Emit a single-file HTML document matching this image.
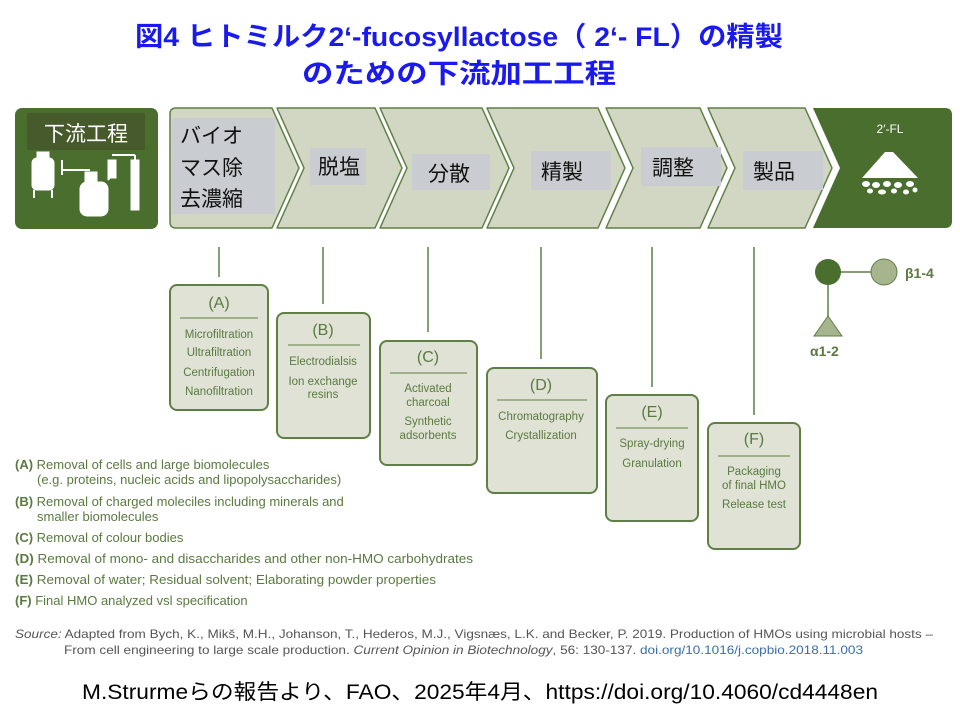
<!DOCTYPE html>
<html><head><meta charset="utf-8"><style>
html,body{margin:0;padding:0;background:#fff;width:960px;height:720px;overflow:hidden}
svg{display:block}
text{font-family:"Liberation Sans","Noto Sans CJK JP",sans-serif}
</style></head><body>
<svg width="960" height="720" viewBox="0 0 960 720" xmlns="http://www.w3.org/2000/svg">
<text x="135" y="46" font-size="27" font-weight="bold" fill="#1a1aee" textLength="648" lengthAdjust="spacingAndGlyphs">図4  ヒトミルク2‘-fucosyllactose（ 2‘- FL）の精製</text>
<text x="302" y="83" font-size="27" font-weight="bold" fill="#1a1aee" textLength="314" lengthAdjust="spacingAndGlyphs">のための下流加工工程</text>

<rect x="15" y="108" width="143" height="121" rx="7" fill="#4a6e2e"/>
<rect x="27" y="113" width="118" height="37" fill="#475a2c"/>
<text x="86" y="141" font-size="21" fill="#fff" text-anchor="middle">下流工程</text>
<g fill="#fff" stroke="#fff">
<rect x="32" y="158" width="22" height="32" rx="5"/>
<line x1="34" y1="190" x2="34" y2="198" stroke-width="2"/><line x1="52" y1="190" x2="52" y2="198" stroke-width="2"/>
<rect x="37" y="152" width="12" height="5"/>
<line x1="62" y1="160" x2="62" y2="175" stroke-width="2"/>
<line x1="62" y1="170" x2="90" y2="170" stroke-width="2"/>
<rect x="85" y="172" width="12" height="10"/>
<rect x="80" y="182" width="28" height="34" rx="7"/>
<line x1="108" y1="180" x2="115" y2="170" stroke-width="2"/>
<rect x="108" y="160" width="8" height="18"/>
<line x1="112" y1="155" x2="135" y2="155" stroke-width="2" fill="none"/>
<rect x="131" y="160" width="8" height="50"/>
<line x1="135" y1="155" x2="135" y2="160" stroke-width="2"/>
</g>

<g fill="#d2d7c3" stroke="#5f7f45" stroke-width="1.5" stroke-linejoin="round">
<path d="M176 108 L272 108 L299 168 L272 228 L176 228 Q170 228 170 222 L170 114 Q170 108 176 108 Z"/>
<path d="M277 108 L375 108 L402 168 L375 228 L277 228 L304 168 Z"/>
<path d="M380 108 L482 108 L509 168 L482 228 L380 228 L407 168 Z"/>
<path d="M487 108 L598 108 L625 168 L598 228 L487 228 L514 168 Z"/>
<path d="M606 108 L700 108 L727 168 L700 228 L606 228 L633 168 Z"/>
<path d="M708 108 L805 108 L832 168 L805 228 L708 228 L735 168 Z"/>
</g>
<path d="M813 108 L945 108 Q952 108 952 115 L952 221 Q952 228 945 228 L813 228 L840 168 Z" fill="#4a6e2e"/>
<text x="890" y="133" font-size="12" fill="#fff" text-anchor="middle">2′-FL</text>
<path d="M862 178 L885 152 L893 152 L918 178 Z" fill="#fff"/>
<g fill="#fff">
<ellipse cx="866" cy="184" rx="4" ry="3"/><ellipse cx="876" cy="185" rx="4" ry="3"/><ellipse cx="887" cy="184" rx="4" ry="3"/><ellipse cx="898" cy="185" rx="4" ry="3"/><ellipse cx="910" cy="184" rx="4" ry="3"/>
<ellipse cx="870" cy="191" rx="3" ry="2.5"/><ellipse cx="882" cy="192" rx="4" ry="2.5"/><ellipse cx="894" cy="191" rx="3" ry="2.5"/><ellipse cx="906" cy="192" rx="3" ry="2.5"/><ellipse cx="915" cy="190" rx="2.5" ry="2.5"/>
</g>

<g fill="#c9ccd0">
<rect x="172" y="118" width="103" height="96"/>
<rect x="310" y="148" width="56" height="37"/>
<rect x="412" y="154" width="78" height="36"/>
<rect x="531" y="151" width="80" height="39"/>
<rect x="641" y="147" width="80" height="39"/>
<rect x="743" y="151" width="80" height="39"/>
</g>
<g font-size="21" fill="#111">
<text x="180" y="143">バイオ</text>
<text x="180" y="175">マス除</text>
<text x="180" y="206">去濃縮</text>
<text x="318" y="174">脱塩</text>
<text x="428" y="181">分散</text>
<text x="541" y="179">精製</text>
<text x="652" y="175">調整</text>
<text x="753" y="179">製品</text>
</g>

<g stroke="#5f7f45" stroke-width="1.5">
<line x1="219" y1="247" x2="219" y2="277"/>
<line x1="323" y1="247" x2="323" y2="304"/>
<line x1="428" y1="247" x2="428" y2="332"/>
<line x1="541" y1="247" x2="541" y2="359"/>
<line x1="652" y1="247" x2="652" y2="387"/>
<line x1="754" y1="247" x2="754" y2="415"/>
</g>

<g fill="#dfe2d5" stroke="#5f7f45" stroke-width="2">
<rect x="170" y="285" width="98" height="125" rx="7"/>
<rect x="277" y="313" width="93" height="125" rx="7"/>
<rect x="380" y="341" width="97" height="124" rx="7"/>
<rect x="487" y="368" width="110" height="125" rx="7"/>
<rect x="606" y="395" width="92" height="126" rx="7"/>
<rect x="708" y="423" width="92" height="126" rx="7"/>
</g>
<g stroke="#5f7f45" stroke-width="1">
<line x1="180" y1="318" x2="258" y2="318"/>
<line x1="288" y1="345" x2="360" y2="345"/>
<line x1="390" y1="373" x2="467" y2="373"/>
<line x1="497" y1="400" x2="587" y2="400"/>
<line x1="616" y1="428" x2="688" y2="428"/>
<line x1="718" y1="456" x2="790" y2="456"/>
</g>
<g fill="#5a7a40" text-anchor="middle" font-size="11.5">
<text x="219" y="308" font-size="16">(A)</text>
<text x="219" y="338">Microfiltration</text>
<text x="219" y="356">Ultrafiltration</text>
<text x="219" y="376">Centrifugation</text>
<text x="219" y="395">Nanofiltration</text>
<text x="323" y="335" font-size="16">(B)</text>
<text x="323" y="365">Electrodialsis</text>
<text x="323" y="385">Ion exchange</text>
<text x="323" y="398">resins</text>
<text x="428" y="362" font-size="16">(C)</text>
<text x="428" y="392">Activated</text>
<text x="428" y="406">charcoal</text>
<text x="428" y="425">Synthetic</text>
<text x="428" y="439">adsorbents</text>
<text x="541" y="390" font-size="16">(D)</text>
<text x="541" y="420">Chromatography</text>
<text x="541" y="439">Crystallization</text>
<text x="652" y="417" font-size="16">(E)</text>
<text x="652" y="447">Spray-drying</text>
<text x="652" y="467">Granulation</text>
<text x="754" y="444" font-size="16">(F)</text>
<text x="754" y="475">Packaging</text>
<text x="754" y="489">of final HMO</text>
<text x="754" y="508">Release test</text>
</g>

<line x1="828" y1="272" x2="884" y2="272" stroke="#5f7f45" stroke-width="1.5"/>
<line x1="828" y1="272" x2="828" y2="320" stroke="#5f7f45" stroke-width="1.5"/>
<circle cx="828" cy="272" r="13" fill="#4a6e2e"/>
<circle cx="884" cy="272" r="13" fill="#a6b58e" stroke="#5f7f45" stroke-width="1"/>
<path d="M828 316 L842 336 L814 336 Z" fill="#a6b58e" stroke="#5f7f45" stroke-width="1"/>
<text x="905" y="278" font-size="14" font-weight="bold" fill="#5a7a40">β1-4</text>
<text x="810" y="356" font-size="14" font-weight="bold" fill="#5a7a40">α1-2</text>

<g font-size="13" fill="#5a7a40">
<text x="15" y="469"><tspan font-weight="bold">(A)</tspan> Removal of cells and large biomolecules</text>
<text x="37" y="484">(e.g. proteins, nucleic acids and lipopolysaccharides)</text>
<text x="15" y="506"><tspan font-weight="bold">(B)</tspan> Removal of charged moleciles including minerals and</text>
<text x="37" y="521">smaller biomolecules</text>
<text x="15" y="542"><tspan font-weight="bold">(C)</tspan> Removal of colour bodies</text>
<text x="15" y="563" textLength="458" lengthAdjust="spacingAndGlyphs"><tspan font-weight="bold">(D)</tspan> Removal of mono- and disaccharides and other non-HMO carbohydrates</text>
<text x="15" y="584" textLength="421" lengthAdjust="spacingAndGlyphs"><tspan font-weight="bold">(E)</tspan> Removal of water; Residual solvent; Elaborating powder properties</text>
<text x="15" y="605"><tspan font-weight="bold">(F)</tspan> Final HMO analyzed vsl specification</text>
</g>

<text x="15" y="638" font-size="12" fill="#555" textLength="918" lengthAdjust="spacingAndGlyphs"><tspan font-style="italic">Source:</tspan> Adapted from Bych, K., Mikš, M.H., Johanson, T., Hederos, M.J., Vigsnæs, L.K. and Becker, P. 2019. Production of HMOs using microbial hosts –</text>
<text x="64" y="654" font-size="12" fill="#555" textLength="799" lengthAdjust="spacingAndGlyphs">From cell engineering to large scale production. <tspan font-style="italic">Current Opinion in Biotechnology</tspan>, 56: 130-137. <tspan fill="#3a6ea8">doi.org/10.1016/j.copbio.2018.11.003</tspan></text>

<text x="82" y="699" font-size="21" fill="#000" textLength="796" lengthAdjust="spacingAndGlyphs">M.Strurmeらの報告より、FAO、2025年4月、https://doi.org/10.4060/cd4448en</text>
</svg>
</body></html>
